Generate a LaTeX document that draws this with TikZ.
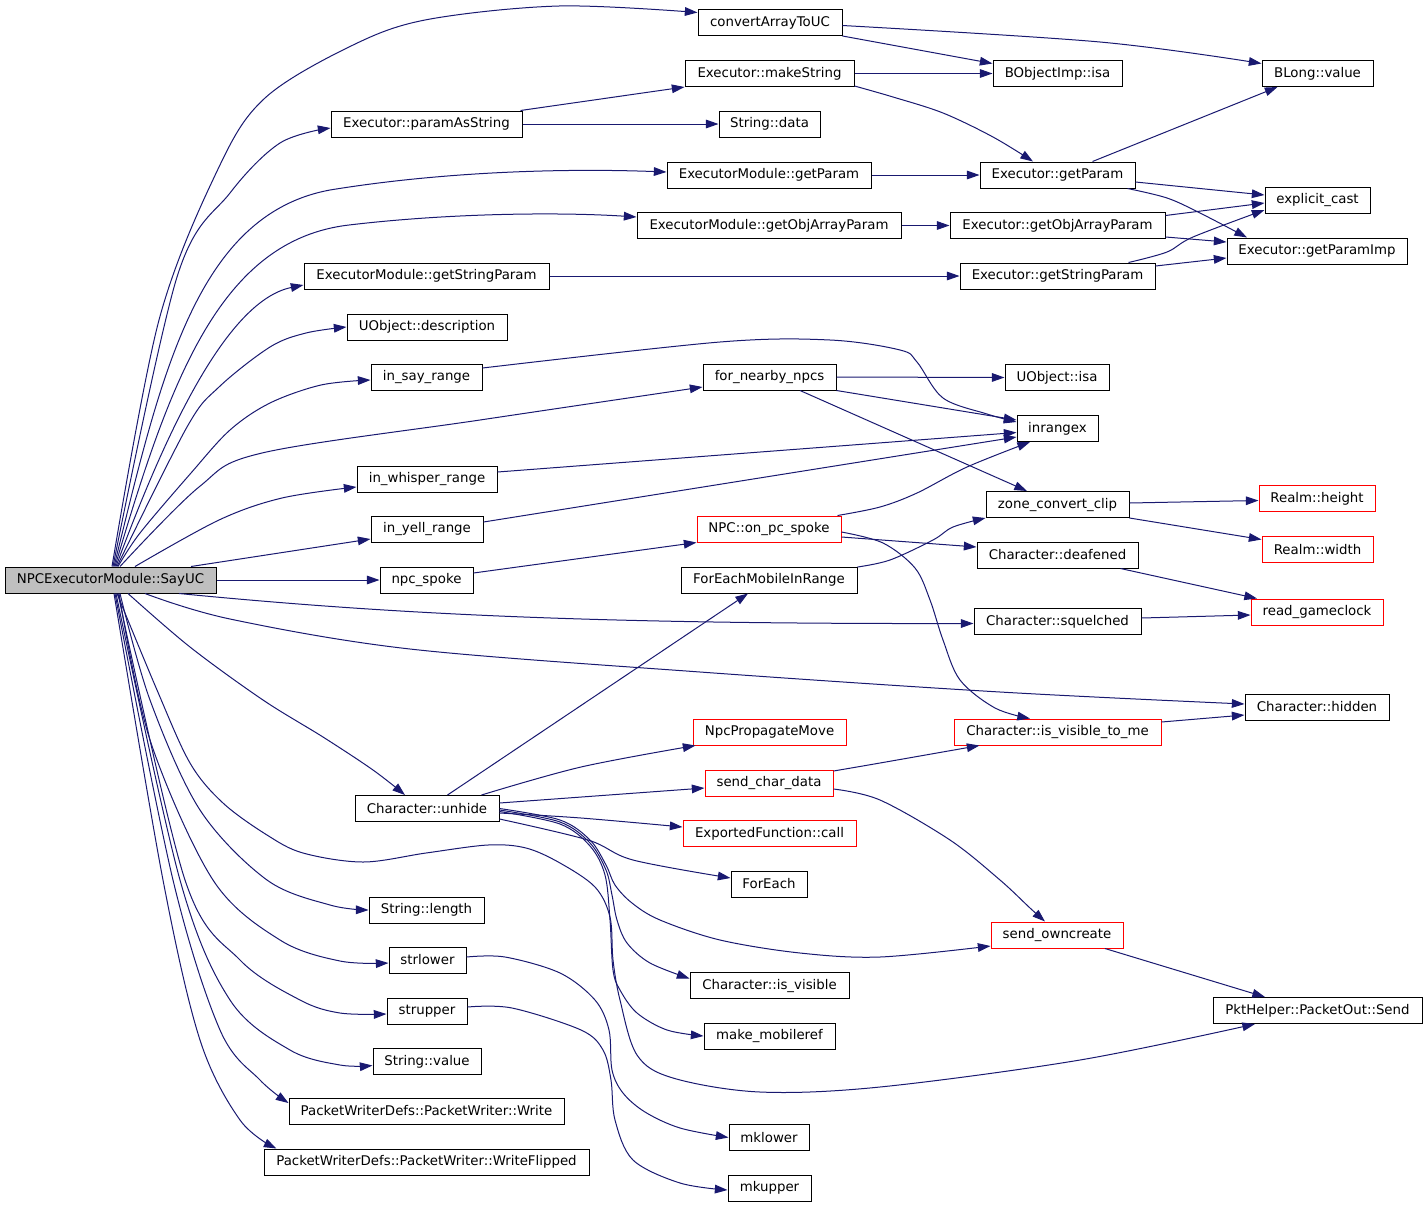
\documentclass[tikz,border=0pt]{standalone}
\usepackage{fontspec}
\setmainfont{DejaVu Sans}
\usetikzlibrary{arrows.meta,calc}
\definecolor{edgecol}{HTML}{191970}
\definecolor{nodegray}{HTML}{BFBFBF}
\newcommand{\bx}[6]{\node[#1,minimum width={(#4-#3)*0.75pt}] (#2) at ({(#3+#4)/2},#5) {#6};}
\begin{document}
\begin{tikzpicture}[x=0.75pt,y=-0.75pt,
  nbox/.style={draw=black,rectangle,minimum height=19.5pt,inner sep=0pt,line width=0.75pt,font=\fontsize{10pt}{12pt}\selectfont},
  gbox/.style={nbox,fill=nodegray},
  rbox/.style={nbox,draw=red},
  cedge/.style={draw=edgecol,line width=0.75pt,-{Triangle[length=9.5pt,width=6.5pt]}},
  sm/.style={smooth,tension=0.55}]
\useasboundingbox (0,0) rectangle (1427,1207);
% column 1
\bx{gbox}{sayuc}{5}{216}{580}{NPCExecutorModule::SayUC}
% column 2
\bx{nbox}{pas}{331}{522}{124}{Executor::paramAsString}
\bx{nbox}{emgsp}{304}{549}{276}{ExecutorModule::getStringParam}
\bx{nbox}{uod}{347}{507}{327}{UObject::description}
\bx{nbox}{isr}{371}{482}{377}{in\_say\_range}
\bx{nbox}{iwr}{357}{497}{479}{in\_whisper\_range}
\bx{nbox}{iyr}{371}{483}{529}{in\_yell\_range}
\bx{nbox}{nps}{380}{473}{580}{npc\_spoke}
\bx{nbox}{unhide}{355}{499}{808.5}{Character::unhide}
\bx{nbox}{slen}{369}{484}{910}{String::length}
\bx{nbox}{strlower}{389}{466}{960}{strlower}
\bx{nbox}{strupper}{387}{467}{1011}{strupper}
\bx{nbox}{sval}{373}{481}{1061.5}{String::value}
\bx{nbox}{pww}{289}{564}{1111}{PacketWriterDefs::PacketWriter::Write}
\bx{nbox}{pwwf}{264}{589}{1162}{PacketWriterDefs::PacketWriter::WriteFlipped}
% column 3
\bx{nbox}{cat}{698}{842}{22.5}{convertArrayToUC}
\bx{nbox}{ems}{685}{854}{73.5}{Executor::makeString}
\bx{nbox}{sdata}{719}{820}{124}{String::data}
\bx{nbox}{emgp}{667}{871}{175}{ExecutorModule::getParam}
\bx{nbox}{emgoap}{637}{901}{225.5}{ExecutorModule::getObjArrayParam}
\bx{nbox}{fnn}{703}{836}{377}{for\_nearby\_npcs}
\bx{rbox}{npcops}{697}{841}{529}{NPC::on\_pc\_spoke}
\bx{nbox}{femir}{681}{857}{580}{ForEachMobileInRange}
\bx{rbox}{npm}{693}{846}{732}{NpcPropagateMove}
\bx{rbox}{scd}{705}{833}{783}{send\_char\_data}
\bx{rbox}{efc}{683}{856}{833.5}{ExportedFunction::call}
\bx{nbox}{fe}{731}{807}{884}{ForEach}
\bx{nbox}{civ}{690}{849}{985.5}{Character::is\_visible}
\bx{nbox}{mmr}{704}{835}{1036}{make\_mobileref}
\bx{nbox}{mklower}{729}{809}{1137.5}{mklower}
\bx{nbox}{mkupper}{728}{811}{1188}{mkupper}
% column 4
\bx{nbox}{boi}{993}{1122}{73.5}{BObjectImp::isa}
\bx{nbox}{egp}{980}{1135}{175}{Executor::getParam}
\bx{nbox}{egoap}{950}{1165}{225.5}{Executor::getObjArrayParam}
\bx{nbox}{egsp}{960}{1155}{276}{Executor::getStringParam}
\bx{nbox}{uoisa}{1005}{1109}{377.5}{UObject::isa}
\bx{nbox}{inrangex}{1017}{1098}{428.5}{inrangex}
\bx{nbox}{zcc}{986}{1129}{504.5}{zone\_convert\_clip}
\bx{nbox}{deaf}{977}{1138}{555}{Character::deafened}
\bx{nbox}{squelched}{974}{1141}{621.5}{Character::squelched}
\bx{rbox}{civtm}{954}{1161}{732}{Character::is\_visible\_to\_me}
\bx{rbox}{soc}{991}{1123}{935}{send\_owncreate}
% column 5
\bx{nbox}{blong}{1262}{1373}{73.5}{BLong::value}
\bx{nbox}{ecast}{1265}{1370}{200}{explicit\_cast}
\bx{nbox}{egpi}{1227}{1407}{251}{Executor::getParamImp}
\bx{rbox}{rh}{1259}{1375}{498.5}{Realm::height}
\bx{rbox}{rw}{1262}{1373}{549.5}{Realm::width}
\bx{rbox}{rgc}{1251}{1383}{612}{read\_gameclock}
\bx{nbox}{chid}{1245}{1389}{707}{Character::hidden}
\bx{nbox}{pps}{1213}{1422}{1010.5}{PktHelper::PacketOut::Send}
% ---- edges from SayUC (upward)
\draw[cedge] plot[sm] coordinates {($(sayuc.north)+(1.5,0)$) (159,320) (219,167) (265,98) (349,47) (425,20) (559,6) ($(cat.west)+(0,-10)$)};
\draw[cedge] plot[sm] coordinates {($(sayuc.north)+(2.5,0)$) (177,277) (230,193) (280,143) ($(pas.west)+(0,4)$)};
\draw[cedge] ($(sayuc.north)+(3.5,0)$) .. controls (160,380) and (195,215) .. (330,190) .. controls (440,172) and (560,168) .. ($(emgp.west)+(0,-3)$);
\draw[cedge] ($(sayuc.north)+(4.5,0)$) .. controls (170,380) and (220,240) .. (349,225) .. controls (450,213) and (560,212) .. ($(emgoap.west)+(0,-8.5)$);
\draw[cedge] ($(sayuc.north)+(5.5,0)$) .. controls (170,420) and (230,300) .. ($(emgsp.west)+(0,9)$);
\draw[cedge] plot[sm] coordinates {($(sayuc.north)+(6.5,0)$) (187,427) (219,387) (270,347) (306,333) (uod.west)};
\draw[cedge] plot[sm] coordinates {($(sayuc.north)+(7.5,0)$) (140,533) (191,473) (230,430) (270,403) (321,385) ($(isr.west)+(0,3)$)};
\draw[cedge] plot[sm] coordinates {($(sayuc.north)+(9.5,0)$) (199,487) (262,453) (480,420) ($(fnn.west)+(0,10)$)};
\draw[cedge] plot[sm] coordinates {($(sayuc.north)+(24.5,0)$) (219,520) (282,498) ($(iwr.west)+(0,8)$)};
\draw[cedge] ($(sayuc.north)+(80.5,0)$) -- ($(iyr.west)+(0,10)$);
\draw[cedge] (sayuc.east) -- (nps.west);
% ---- edges from SayUC (downward)
\draw[cedge] ($(sayuc.south)+(68.5,0)$) .. controls (400,615) and (600,624) .. ($(squelched.west)+(0,2)$);
\draw[cedge] plot[sm] coordinates {($(sayuc.south)+(34.5,0)$) (230,619) (410,649) (700,672) (1000,692) ($(chid.west)+(0,-3)$)};
\draw[cedge] plot[sm] coordinates {($(sayuc.south)+(17.5,0)$) (190,647) (263,700) (323,737) (373,770) ($(unhide.north)+(-22,0)$)};
\draw[cedge] plot[sm] coordinates {($(sayuc.south)+(6.5,0)$) (157,690) (190,763) (223,803) (267,835) (303,853) (363,862) (426,853) (488,845) (526,848) (560,863) (595,887) (610,917) (613,960) (620,1000) (637,1055) (673,1078) (760,1092) (880,1087) (1080,1060) ($(pps.south)+(-62.5,0)$)};
\draw[cedge] plot[sm] coordinates {($(sayuc.south)+(9.5,0)$) (150,700) (200,810) (267,880) (330,905) (slen.west)};
\draw[cedge] plot[sm] coordinates {($(sayuc.south)+(8.5,0)$) (150,740) (213,880) (280,940) (340,961) ($(strlower.west)+(0,3)$)};
\draw[cedge] plot[sm] coordinates {($(sayuc.south)+(7.5,0)$) (185,880) (240,960) (300,1000) (340,1013) ($(strupper.west)+(0,3)$)};
\draw[cedge] plot[sm] coordinates {($(sayuc.south)+(5.5,0)$) (180,880) (230,1000) (290,1050) (340,1065) ($(sval.west)+(0,4)$)};
\draw[cedge] plot[sm] coordinates {($(sayuc.south)+(4.5,0)$) (173,880) (220,1030) (260,1080) ($(pww.west)+(0,-8)$)};
\draw[cedge] plot[sm] coordinates {($(sayuc.south)+(3.5,0)$) (163,880) (200,1040) (240,1120) ($(pwwf.north west)+(13,0)$)};
% ---- upper right
\draw[cedge] ($(pas.north east)+(-2,0)$) -- (ems.south west);
\draw[cedge] (pas.east) -- (sdata.west);
\draw[cedge] (emgsp.east) -- (egsp.west);
\draw[cedge] (emgp.east) -- (egp.west);
\draw[cedge] (emgoap.east) -- (egoap.west);
\draw[cedge] (cat.south east) -- ($(boi.west)+(0,-10)$);
\draw[cedge] plot[sm] coordinates {($(cat.east)+(0,3)$) (1100,42) ($(blong.west)+(0,-10)$)};
\draw[cedge] (ems.east) -- (boi.west);
\draw[cedge] plot[sm] coordinates {($(ems.south east)+(0,-1)$) (893,97) (943,113) (993,137) ($(egp.north)+(-24.5,0)$)};
\draw[cedge] ($(egp.north)+(35,0)$) -- ($(blong.south)+(-40,0)$);
\draw[cedge] ($(egp.east)+(0,7)$) -- ($(ecast.west)+(0,-5)$);
\draw[cedge] plot[sm] coordinates {($(egp.south east)+(-8,0)$) (1167,198) (1200,213) ($(egpi.north)+(-70,0)$)};
\draw[cedge] ($(egoap.east)+(0,-10)$) -- ($(ecast.west)+(0,3)$);
\draw[cedge] ($(egoap.east)+(0,11.5)$) -- ($(egpi.west)+(0,-9)$);
\draw[cedge] plot[sm] coordinates {($(egsp.north east)+(-27,0)$) (1167,252) (1193,237) ($(ecast.west)+(0,10)$)};
\draw[cedge] ($(egsp.east)+(0,-10)$) -- ($(egpi.west)+(0,7)$);
% ---- middle
\draw[cedge] plot[sm] coordinates {($(isr.east)+(0,-9)$) (720,342) (830,340) (900,350) (917,362) (943,398) (987,414) ($(inrangex.west)+(0,-6.5)$)};
\draw[cedge] (fnn.east) -- (uoisa.west);
\draw[cedge] (fnn.south east) -- ($(inrangex.west)+(0,-8.5)$);
\draw[cedge] ($(fnn.south)+(30.5,0)$) -- ($(zcc.north)+(-30.5,0)$);
\draw[cedge] ($(iwr.east)+(0,-7)$) -- ($(inrangex.west)+(0,4)$);
\draw[cedge] ($(iyr.east)+(0,-7)$) -- ($(inrangex.west)+(0,8.5)$);
\draw[cedge] ($(nps.east)+(0,-7)$) -- (npcops.south west);
\draw[cedge] plot[sm] coordinates {($(npcops.north east)+(-4,0)$) (880,507) (917,493) (967,467) ($(inrangex.south)+(-27.5,0)$)};
\draw[cedge] ($(npcops.east)+(0,8)$) -- ($(deaf.west)+(0,-8)$);
\draw[cedge] plot[sm] coordinates {($(npcops.east)+(0,3)$) (883,543) (915,568) (930,600) (943,640) (960,680) (995,708) ($(civtm.north)+(-27.5,0)$)};
\draw[cedge] plot[sm] coordinates {($(femir.east)+(0,-13)$) (890,560) (933,540) (953,527) (zcc.south west)};
\draw[cedge] plot[sm] coordinates {($(zcc.east)+(0,-1.5)$) (1180,502) ($(rh.west)+(0,2)$)};
\draw[cedge] (zcc.south east) -- ($(rw.west)+(0,-10)$);
\draw[cedge] ($(deaf.south east)+(-18,0)$) -- ($(rgc.north)+(-60,0)$);
\draw[cedge] ($(squelched.east)+(0,-3.5)$) -- ($(rgc.west)+(0,3)$);
\draw[cedge] ($(civtm.east)+(0,-10)$) -- ($(chid.west)+(0,8)$);
% ---- from Character::unhide
\draw[cedge] ($(unhide.north)+(20.5,0)$) -- ($(femir.south)+(-21,0)$);
\draw[cedge] plot[sm] coordinates {($(unhide.north)+(54.5,0)$) (581,767) ($(npm.south west)+(3,0)$)};
\draw[cedge] ($(unhide.east)+(0,-5.5)$) -- ($(scd.west)+(0,5)$);
\draw[cedge] plot[sm] coordinates {($(unhide.east)+(0,4.5)$) (581,818) ($(efc.west)+(0,-6.5)$)};
\draw[cedge] plot[sm] coordinates {($(unhide.east)+(0,10.5)$) (588,840) (633,860) ($(fe.west)+(0,-6)$)};
\draw[cedge] plot[sm] coordinates {(unhide.east) (560,820) (590,840) (606,865) (615,885) (632,903) (660,920) (720,940) (800,953) (880,957) ($(soc.west)+(0,11)$)};
\draw[cedge] plot[sm] coordinates {($(unhide.east)+(0,1.5)$) (560,822) (590,843) (606,870) (612,895) (617,920) (627,943) (650,963) ($(civ.west)+(0,-7)$)};
\draw[cedge] plot[sm] coordinates {($(unhide.east)+(0,3)$) (560,824) (590,846) (605,875) (610,920) (613,970) (620,990) (637,1013) (667,1030) (mmr.west)};
% ---- lower
\draw[cedge] plot[sm] coordinates {($(scd.east)+(0,-12)$) (880,763) ($(civtm.south west)+(26,0)$)};
\draw[cedge] plot[sm] coordinates {($(scd.east)+(0,6)$) (880,800) (950,840) (1000,880) (1030,908) ($(soc.north)+(-12,0)$)};
\draw[cedge] ($(soc.south)+(48,0)$) -- ($(pps.north)+(-52.5,0)$);
\draw[cedge] plot[sm] coordinates {($(strlower.east)+(0,-3)$) (505,957) (560,973) (595,1000) (609,1030) (612,1070) (623,1093) (645,1112) (680,1128) (mklower.west)};
\draw[cedge] plot[sm] coordinates {($(strupper.east)+(0,-4)$) (512,1008) (581,1030) (603,1050) (611,1080) (615,1120) (633,1160) (680,1183) ($(mkupper.west)+(0,2)$)};
\end{tikzpicture}
\end{document}
